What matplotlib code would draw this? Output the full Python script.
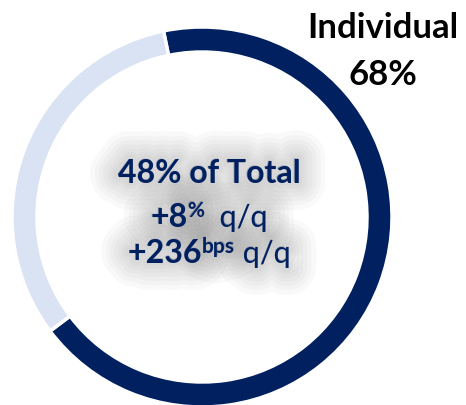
import matplotlib.pyplot as plt
import matplotlib.patheffects as pe

# data
segments = ['Individual', 'Other']
shares = [68, 32]
seg_colors = ['#002060', '#DAE3F3']
label_name = 'Individual'
label_value = '68%'
share_text = '48% of Total'
growth_value = '+8'
growth_unit = '%'
bps_value = '+236'
bps_unit = 'bps'
qq_text = 'q/q'

navy = '#002060'
plt.rcParams['font.family'] = ['Lato', 'DejaVu Sans']

fig = plt.figure(figsize=(4.66, 4.06), dpi=100)
ax = fig.add_axes([0, 0, 1, 1])

cx, cy, R = 202, 188, 190
ax.pie(shares, center=(cx, cy), radius=R, startangle=101.7, counterclock=False,
       colors=seg_colors,
       wedgeprops=dict(width=25, edgecolor='white', linewidth=2.5))
ax.set_xlim(0, 466)
ax.set_ylim(0, 406)
ax.set_aspect('auto')
ax.axis('off')

# label top right
ax.text(383, 368, label_name, fontsize=25, fontweight='bold', color='black',
        ha='center', va='baseline')
ax.text(383, 321, label_value, fontsize=25, fontweight='bold', color='black',
        ha='center', va='baseline')

glow = [pe.Stroke(linewidth=lw, foreground='#8a8a8a', alpha=0.05)
        for lw in (40, 33, 27, 21, 15, 10, 6)]

renderer = fig.canvas.get_renderer()


def draw_line(x, y, pieces):
    texts = []
    for s, size, weight, rise in pieces:
        t = ax.text(0, 0, s, fontsize=size, fontweight=weight, color=navy,
                    ha='left', va='baseline', zorder=5)
        texts.append(t)
    widths = [t.get_window_extent(renderer).width for t in texts]
    cur = x - sum(widths) / 2
    for t, w, (s, size, weight, rise) in zip(texts, widths, pieces):
        t.set_position((cur, y + rise))
        ax.text(cur, y + rise, s, fontsize=size, fontweight=weight,
                color=navy, ha='left', va='baseline', zorder=4,
                path_effects=glow)
        cur += w


draw_line(209, 223, [(share_text, 23, 'bold', 0)])
draw_line(209, 179, [(growth_value, 23, 'bold', 0),
                     (growth_unit, 15, 'bold', 10),
                     ('  ' + qq_text, 22, 'normal', 0)])
draw_line(209, 143, [(bps_value, 23, 'bold', 0),
                     (bps_unit, 15, 'bold', 10),
                     (' ' + qq_text, 22, 'normal', 0)])

fig.savefig('out.png', dpi=100)
